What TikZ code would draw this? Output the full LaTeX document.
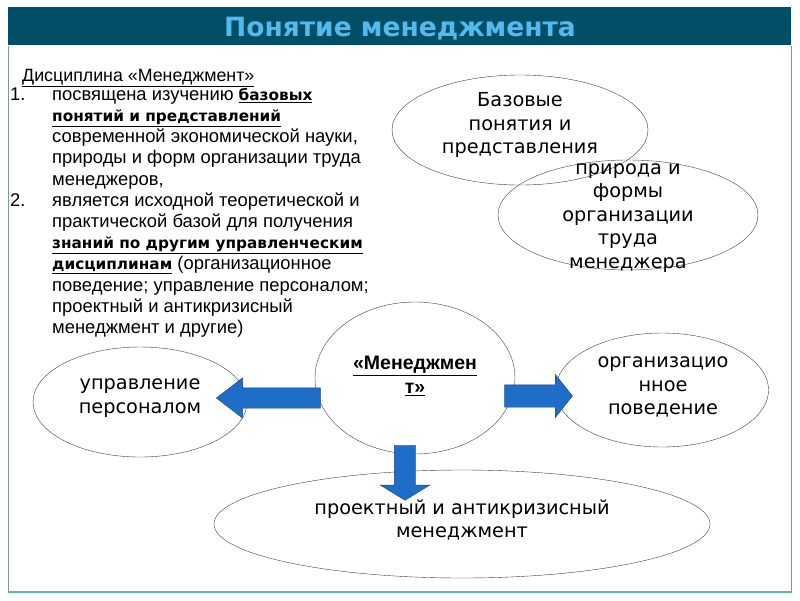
\documentclass[tikz,border=0pt]{standalone}
\usepackage{fontspec}
\setmainfont{Liberation Sans}
\newfontfamily\verd{DejaVu Sans}
\usetikzlibrary{shapes.geometric,shapes.arrows}

\definecolor{hdrteal}{RGB}{0,78,104}
\definecolor{hdrtext}{RGB}{82,186,236}
\definecolor{framegray}{RGB}{125,150,165}
\definecolor{arrblue}{RGB}{30,110,200}
\definecolor{arredge}{RGB}{30,65,135}

\newcommand{\bu}[1]{\underline{{\verd\bfseries\fontsize{15.3}{21.2}\selectfont #1}}}

\tikzset{
  oval/.style={ellipse, draw=black!75, thin, inner sep=0pt},
  ovaltxt/.style={inner sep=0pt, align=center, font=\verd\fontsize{19.3}{23.5}\selectfont},
  listtxt/.style={inner sep=0pt, align=left, font=\fontsize{18.4}{21.2}\selectfont},
  bigarrow/.style={single arrow, draw=arredge, fill=arrblue, thin, inner xsep=0pt,
    single arrow head indent=0pt},
}

\begin{document}
\begin{tikzpicture}[x=1pt,y=-1pt]
\useasboundingbox (0,0) rectangle (800,600);
% header and frame
\fill[white] (0,0) rectangle (800,600);
\draw[framegray, thin] (8,46) -- (8,592) -- (791,592) -- (791,46);
\draw[framegray!70!cyan, line width=1.5pt] (8,592) -- (791,592);
\fill[hdrteal] (8,7) rectangle (791,45);
\node[anchor=base, text=hdrtext, font=\verd\bfseries\fontsize{26.5}{30}\selectfont] (title) at (400,36) {Понятие менеджмента};

% text on the left
\node[listtxt, anchor=base west, font=\fontsize{17.8}{21.2}\selectfont] (head) at (22,81) {\underline{Дисциплина «Менеджмент»}};
\node[listtxt, anchor=base west] (num1) at (10,100) {1.};
\node[listtxt, anchor=base west] (num2) at (10,206) {2.};
\node[listtxt, anchor=north west] (discl) at (52,85.16) {\strut посвящена изучению \bu{базовых}\\
  \bu{понятий и представлений}\\
  современной экономической науки,\\
  природы и форм организации труда\\
  менеджеров,\\
  является исходной теоретической и\\
  практической базой для получения\\
  \bu{знаний по другим управленческим}\\
  \bu{дисциплинам} (организационное\\
  поведение; управление персоналом;\\
  проектный и антикризисный\\
  менеджмент и другие)};

% ellipses
\node[oval, minimum width=256, minimum height=110] (base) at (520,130) {};
\node[oval, minimum width=260, minimum height=110] (nature) at (628,215) {};
\node[oval, minimum width=200, minimum height=152] (mgmt) at (415,378) {};
\node[oval, minimum width=214, minimum height=110] (hr) at (140,402) {};
\node[oval, minimum width=213, minimum height=114] (orgb) at (662,390) {};
\node[oval, minimum width=496, minimum height=108] (proj) at (462,524) {};

\node[ovaltxt] at (520,125) {Базовые\\понятия и\\представления};
\node[ovaltxt] at (628,218) {природа и\\формы\\организации\\труда\\менеджера};
\node[ovaltxt] at (140,398) {управление\\персоналом};
\node[ovaltxt] at (663,387) {организацио\\нное\\поведение};
\node[ovaltxt] at (462,520) {проектный и антикризисный\\менеджмент};
\node[align=center, inner sep=0pt, font=\bfseries\fontsize{19.5}{24}\selectfont] (mgmtlbl) at (415,376)
  {\underline{«Менеджмен}\\\underline{т»}};

% block arrows
\node[bigarrow, shape border rotate=180, minimum height=104, inner ysep=10,
  single arrow head extend=10, single arrow tip angle=75] (arrHR) at (275,398) {};
\node[bigarrow, minimum height=68, inner ysep=11,
  single arrow head extend=10.5, single arrow tip angle=103] (arrOB) at (534,396) {};
\node[bigarrow, shape border rotate=270, minimum height=55, inner sep=10.5,
  single arrow head extend=14, single arrow tip angle=117] (arrPR) at (405,469.5) {};
\end{tikzpicture}
\end{document}
